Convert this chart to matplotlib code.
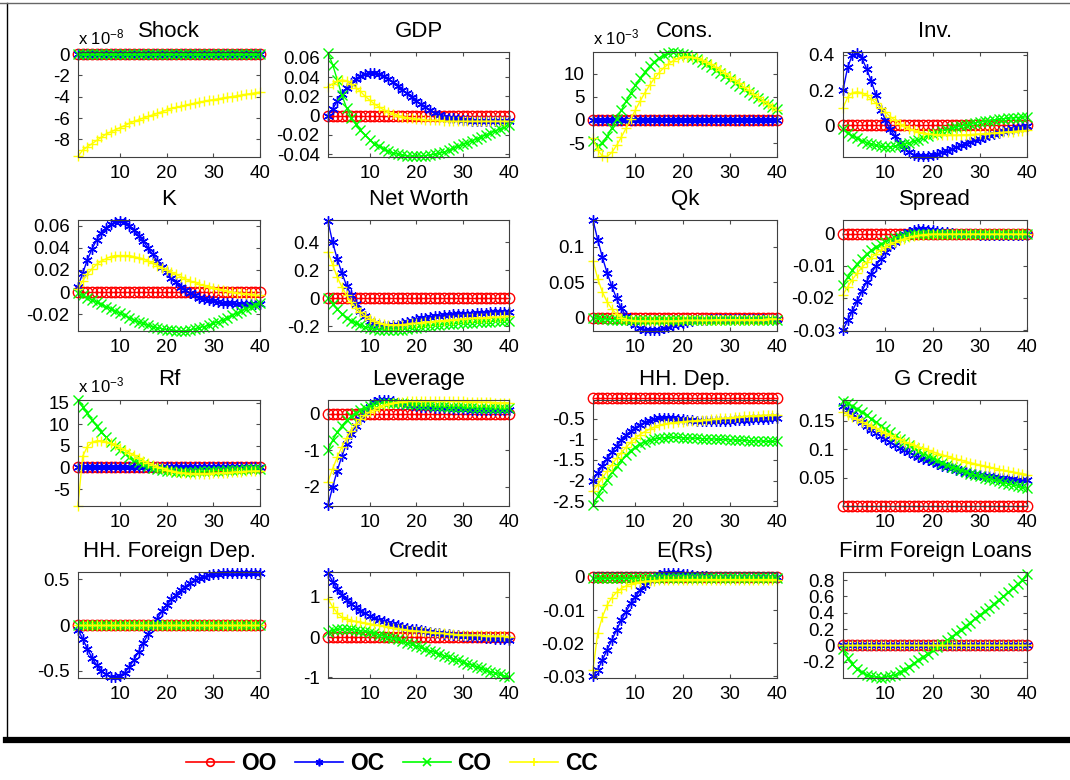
import numpy as np
import matplotlib
matplotlib.use("Agg")
import matplotlib.pyplot as plt
from matplotlib.lines import Line2D

plt.rcParams['font.family'] = ['Liberation Sans', 'DejaVu Sans']
plt.rcParams['mathtext.default'] = 'regular'

########## DATA ##########
periods = np.arange(1, 41)
series_names = ["OO", "OC", "CO", "CC"]
zero = [0.0] * 40

# Shock (x 1e-8)
shock_cc = [-9.6, -9.0, -8.7, -8.4, -8.1, -7.8, -7.5, -7.3, -7.1, -6.9,
            -6.7, -6.5, -6.3, -6.15, -6.0, -5.85, -5.7, -5.55, -5.4, -5.25,
            -5.1, -5.0, -4.9, -4.8, -4.7, -4.6, -4.5, -4.42, -4.34, -4.27,
            -4.2, -4.12, -4.05, -3.98, -3.91, -3.84, -3.77, -3.7, -3.63, -3.56]

# GDP
gdp_oc = [0.0, 0.007, 0.015, 0.022, 0.029, 0.034, 0.038, 0.041, 0.043, 0.044,
          0.044, 0.043, 0.041, 0.038, 0.035, 0.031, 0.027, 0.023, 0.019, 0.015,
          0.012, 0.009, 0.006, 0.003, 0.001, -0.001, -0.002, -0.003, -0.004, -0.005,
          -0.005, -0.0055, -0.006, -0.006, -0.006, -0.006, -0.006, -0.006, -0.006, -0.006]
gdp_co = [0.065, 0.053, 0.037, 0.021, 0.008, -0.002, -0.009, -0.015, -0.02, -0.025,
          -0.029, -0.032, -0.035, -0.037, -0.039, -0.04, -0.041, -0.042, -0.042, -0.042,
          -0.042, -0.0415, -0.041, -0.04, -0.039, -0.038, -0.036, -0.034, -0.032, -0.03,
          -0.028, -0.026, -0.024, -0.022, -0.02, -0.018, -0.016, -0.014, -0.012, -0.01]
gdp_cc = [0.03, 0.033, 0.036, 0.037, 0.036, 0.033, 0.029, 0.025, 0.02, 0.016,
          0.012, 0.009, 0.006, 0.004, 0.002, 0.0, -0.001, -0.002, -0.003, -0.004,
          -0.004, -0.005, -0.005, -0.005, -0.005, -0.006, -0.006, -0.006, -0.006, -0.006,
          -0.006, -0.006, -0.006, -0.006, -0.006, -0.006, -0.006, -0.006, -0.006, -0.006]

# Cons. (x 1e-3)
cons_co = [-4.6, -5.6, -5.0, -3.5, -1.7, 0.2, 2.1, 4.0, 5.8, 7.5,
           9.0, 10.4, 11.6, 12.6, 13.4, 14.0, 14.4, 14.6, 14.5, 14.3,
           14.0, 13.6, 13.1, 12.6, 12.0, 11.4, 10.8, 10.1, 9.5, 8.8,
           8.1, 7.4, 6.7, 6.0, 5.4, 4.7, 4.1, 3.5, 2.9, 2.4]
cons_cc = [-4.0, -6.5, -7.8, -7.9, -7.0, -5.5, -3.7, -1.8, 0.2, 2.2,
           4.1, 5.9, 7.5, 9.0, 10.2, 11.3, 12.1, 12.8, 13.3, 13.6,
           13.7, 13.6, 13.4, 13.0, 12.6, 12.0, 11.4, 10.8, 10.1, 9.4,
           8.7, 7.9, 7.1, 6.4, 5.6, 4.9, 4.2, 3.5, 2.8, 2.2]

# Inv.
inv_oc = [0.2, 0.33, 0.40, 0.41, 0.38, 0.32, 0.25, 0.17, 0.09, 0.03,
          -0.02, -0.06, -0.1, -0.13, -0.15, -0.165, -0.172, -0.175, -0.173, -0.168,
          -0.16, -0.152, -0.143, -0.133, -0.123, -0.113, -0.103, -0.093, -0.083, -0.074,
          -0.065, -0.056, -0.048, -0.04, -0.033, -0.026, -0.02, -0.014, -0.009, -0.005]
inv_co = [-0.02, -0.04, -0.058, -0.073, -0.086, -0.097, -0.106, -0.113, -0.118, -0.12,
          -0.12, -0.118, -0.113, -0.106, -0.098, -0.089, -0.08, -0.07, -0.06, -0.05,
          -0.041, -0.032, -0.024, -0.016, -0.009, -0.002, 0.004, 0.01, 0.015, 0.02,
          0.024, 0.028, 0.032, 0.035, 0.038, 0.041, 0.043, 0.045, 0.047, 0.049]
inv_cc = [0.1, 0.16, 0.185, 0.19, 0.185, 0.17, 0.15, 0.125, 0.1, 0.075,
          0.05, 0.03, 0.01, -0.005, -0.018, -0.028, -0.036, -0.042, -0.047, -0.05,
          -0.052, -0.053, -0.054, -0.054, -0.054, -0.053, -0.052, -0.051, -0.05, -0.048,
          -0.046, -0.044, -0.042, -0.04, -0.038, -0.036, -0.034, -0.032, -0.03, -0.028]

# K
k_oc = [0.005, 0.017, 0.029, 0.039, 0.047, 0.053, 0.058, 0.061, 0.063, 0.064,
        0.063, 0.06, 0.056, 0.051, 0.046, 0.04, 0.034, 0.028, 0.023, 0.018,
        0.013, 0.009, 0.005, 0.002, -0.001, -0.003, -0.005, -0.006, -0.007, -0.008,
        -0.009, -0.0095, -0.01, -0.01, -0.0105, -0.0105, -0.011, -0.011, -0.011, -0.011]
k_co = [-0.001, -0.003, -0.005, -0.007, -0.009, -0.011, -0.013, -0.015, -0.017, -0.019,
        -0.021, -0.023, -0.025, -0.027, -0.028, -0.03, -0.031, -0.032, -0.033, -0.034,
        -0.034, -0.035, -0.035, -0.035, -0.034, -0.033, -0.032, -0.031, -0.03, -0.028,
        -0.027, -0.025, -0.023, -0.021, -0.019, -0.017, -0.015, -0.013, -0.012, -0.01]
k_cc = [0.003, 0.01, 0.016, 0.021, 0.025, 0.028, 0.03, 0.032, 0.033, 0.033,
        0.033, 0.033, 0.032, 0.031, 0.03, 0.028, 0.026, 0.024, 0.022, 0.02,
        0.018, 0.016, 0.014, 0.012, 0.01, 0.009, 0.007, 0.006, 0.005, 0.004,
        0.003, 0.002, 0.001, 0.0, -0.001, -0.001, -0.002, -0.002, -0.003, -0.003]

# Net Worth
nw_oc = [0.55, 0.4, 0.28, 0.18, 0.09, 0.02, -0.04, -0.09, -0.13, -0.16,
         -0.18, -0.19, -0.2, -0.2, -0.195, -0.19, -0.18, -0.17, -0.16, -0.15,
         -0.145, -0.14, -0.135, -0.13, -0.125, -0.12, -0.12, -0.115, -0.115, -0.11,
         -0.11, -0.11, -0.105, -0.105, -0.105, -0.1, -0.1, -0.1, -0.1, -0.1]
nw_co = [0.0, -0.04, -0.08, -0.11, -0.14, -0.16, -0.18, -0.195, -0.205, -0.215,
         -0.22, -0.225, -0.228, -0.23, -0.23, -0.228, -0.225, -0.22, -0.215, -0.21,
         -0.205, -0.2, -0.197, -0.194, -0.19, -0.188, -0.185, -0.183, -0.181, -0.179,
         -0.177, -0.175, -0.173, -0.171, -0.169, -0.167, -0.165, -0.163, -0.161, -0.16]
nw_cc = [0.33, 0.24, 0.15, 0.08, 0.02, -0.03, -0.07, -0.1, -0.13, -0.15,
         -0.165, -0.175, -0.185, -0.19, -0.19, -0.19, -0.19, -0.185, -0.18, -0.18,
         -0.175, -0.17, -0.17, -0.165, -0.16, -0.16, -0.155, -0.155, -0.15, -0.15,
         -0.145, -0.145, -0.14, -0.14, -0.14, -0.135, -0.135, -0.135, -0.13, -0.13]

# Qk
qk_oc = [0.138, 0.11, 0.085, 0.063, 0.044, 0.027, 0.013, 0.002, -0.006, -0.011,
         -0.015, -0.017, -0.018, -0.018, -0.017, -0.015, -0.013, -0.011, -0.009, -0.007,
         -0.006, -0.005, -0.004, -0.003, -0.003, -0.002, -0.002, -0.002, -0.002, -0.002,
         -0.002, -0.002, -0.002, -0.002, -0.002, -0.002, -0.002, -0.002, -0.002, -0.002]
qk_co = [0.0, -0.001, -0.002, -0.002, -0.003, -0.003, -0.003, -0.003, -0.003, -0.003,
         -0.003, -0.003, -0.003, -0.003, -0.003, -0.003, -0.003, -0.003, -0.003, -0.003,
         -0.003, -0.003, -0.003, -0.003, -0.003, -0.003, -0.003, -0.003, -0.003, -0.003,
         -0.003, -0.003, -0.003, -0.003, -0.003, -0.003, -0.003, -0.003, -0.003, -0.003]
qk_cc = [0.08, 0.055, 0.036, 0.022, 0.012, 0.005, 0.0, -0.003, -0.004, -0.005,
         -0.005, -0.005, -0.005, -0.005, -0.005, -0.005, -0.005, -0.005, -0.005, -0.004,
         -0.004, -0.004, -0.004, -0.004, -0.004, -0.004, -0.003, -0.003, -0.003, -0.003,
         -0.003, -0.003, -0.003, -0.003, -0.003, -0.003, -0.003, -0.002, -0.002, -0.002]

# Spread
spread_oc = [-0.03, -0.027, -0.024, -0.021, -0.018, -0.015, -0.0125, -0.01, -0.0078, -0.0058,
             -0.004, -0.0025, -0.0012, -0.0002, 0.0005, 0.001, 0.0013, 0.0013, 0.0012, 0.001,
             0.0008, 0.0006, 0.0004, 0.0002, 0.0, -0.0001, -0.0002, -0.0003, -0.0003, -0.0004,
             -0.0004, -0.0004, -0.0004, -0.0005, -0.0005, -0.0005, -0.0005, -0.0005, -0.0005, -0.0005]
spread_co = [-0.016, -0.0135, -0.0113, -0.0094, -0.0078, -0.0064, -0.0052, -0.0042, -0.0033, -0.0026,
             -0.002, -0.0015, -0.0011, -0.0008, -0.0005, -0.0003, -0.0002, -0.0001, -0.0001, 0.0,
             0.0, 0.0, 0.0, 0.0, 0.0, 0.0, 0.0, 0.0, 0.0, 0.0,
             0.0, 0.0, 0.0, 0.0, 0.0, 0.0, 0.0, 0.0, 0.0, 0.0]
spread_cc = [-0.019, -0.0165, -0.0143, -0.0123, -0.0105, -0.009, -0.0076, -0.0063, -0.0052, -0.0042,
             -0.0034, -0.0027, -0.0021, -0.0016, -0.0012, -0.0009, -0.0006, -0.0004, -0.0003, -0.0002,
             -0.0002, -0.0002, -0.0002, -0.0002, -0.0002, -0.0002, -0.0002, -0.0002, -0.0002, -0.0002,
             -0.0002, -0.0002, -0.0002, -0.0002, -0.0002, -0.0002, -0.0002, -0.0002, -0.0002, -0.0002]

# Rf (x 1e-3)
rf_co = [15.5, 14.0, 12.5, 11.0, 9.6, 8.3, 7.0, 5.9, 4.9, 4.0,
         3.2, 2.5, 1.8, 1.2, 0.7, 0.3, -0.1, -0.4, -0.6, -0.8,
         -0.9, -1.0, -1.0, -1.0, -1.0, -1.0, -0.9, -0.9, -0.8, -0.8,
         -0.7, -0.7, -0.6, -0.6, -0.5, -0.5, -0.4, -0.4, -0.4, -0.3]
rf_cc = [-8.8, 2.6, 4.8, 5.8, 6.2, 6.2, 6.0, 5.6, 5.1, 4.6,
         4.0, 3.4, 2.8, 2.2, 1.6, 1.1, 0.6, 0.2, -0.2, -0.5,
         -0.8, -1.0, -1.2, -1.3, -1.4, -1.4, -1.4, -1.4, -1.4, -1.3,
         -1.3, -1.2, -1.2, -1.1, -1.0, -1.0, -0.9, -0.9, -0.8, -0.8]

# Leverage
lev_oc = [-2.5, -2.0, -1.55, -1.15, -0.82, -0.55, -0.32, -0.13, 0.05, 0.2,
          0.32, 0.38, 0.39, 0.37, 0.34, 0.31, 0.28, 0.26, 0.24, 0.22,
          0.2, 0.19, 0.18, 0.17, 0.16, 0.15, 0.15, 0.14, 0.14, 0.13,
          0.13, 0.12, 0.12, 0.12, 0.11, 0.11, 0.11, 0.1, 0.1, 0.1]
lev_co = [-1.0, -0.72, -0.5, -0.32, -0.18, -0.07, 0.02, 0.1, 0.16, 0.21,
          0.25, 0.28, 0.3, 0.31, 0.31, 0.3, 0.29, 0.28, 0.27, 0.26,
          0.25, 0.24, 0.23, 0.22, 0.21, 0.21, 0.2, 0.2, 0.19, 0.19,
          0.18, 0.18, 0.17, 0.17, 0.17, 0.16, 0.16, 0.16, 0.15, 0.15]
lev_cc = [-1.85, -1.5, -1.18, -0.9, -0.66, -0.46, -0.29, -0.15, -0.04, 0.05,
          0.12, 0.18, 0.23, 0.27, 0.3, 0.32, 0.33, 0.34, 0.35, 0.35,
          0.35, 0.35, 0.35, 0.35, 0.35, 0.35, 0.35, 0.34, 0.34, 0.34,
          0.33, 0.33, 0.33, 0.32, 0.32, 0.32, 0.31, 0.31, 0.31, 0.3]

# HH. Dep.
hhd_oc = [-2.0, -1.82, -1.64, -1.47, -1.31, -1.16, -1.02, -0.9, -0.8, -0.71,
          -0.64, -0.58, -0.54, -0.51, -0.49, -0.48, -0.48, -0.49, -0.5, -0.51,
          -0.52, -0.53, -0.54, -0.54, -0.55, -0.55, -0.55, -0.54, -0.54, -0.54,
          -0.53, -0.53, -0.52, -0.52, -0.51, -0.51, -0.5, -0.5, -0.49, -0.49]
hhd_co = [-2.6, -2.38, -2.17, -1.98, -1.8, -1.64, -1.5, -1.38, -1.27, -1.18,
          -1.11, -1.06, -1.02, -0.99, -0.97, -0.96, -0.95, -0.95, -0.95, -0.96,
          -0.96, -0.97, -0.97, -0.98, -0.98, -0.99, -0.99, -1.0, -1.0, -1.01,
          -1.01, -1.02, -1.02, -1.03, -1.03, -1.04, -1.04, -1.05, -1.05, -1.05]
hhd_cc = [-2.25, -2.1, -1.93, -1.77, -1.61, -1.46, -1.32, -1.19, -1.07, -0.97,
          -0.88, -0.81, -0.75, -0.7, -0.66, -0.63, -0.61, -0.59, -0.58, -0.57,
          -0.56, -0.55, -0.54, -0.53, -0.52, -0.51, -0.5, -0.49, -0.48, -0.47,
          -0.46, -0.45, -0.44, -0.43, -0.42, -0.42, -0.41, -0.41, -0.4, -0.4]

# G Credit
gcr_oc = [0.175, 0.168, 0.161, 0.154, 0.147, 0.141, 0.134, 0.128, 0.122, 0.117,
          0.112, 0.107, 0.102, 0.098, 0.094, 0.09, 0.086, 0.083, 0.08, 0.077,
          0.074, 0.071, 0.069, 0.066, 0.064, 0.062, 0.06, 0.058, 0.056, 0.055,
          0.053, 0.052, 0.051, 0.05, 0.049, 0.048, 0.047, 0.046, 0.045, 0.045]
gcr_co = [0.185, 0.18, 0.175, 0.17, 0.165, 0.159, 0.153, 0.147, 0.141, 0.135,
          0.129, 0.123, 0.118, 0.112, 0.107, 0.102, 0.097, 0.092, 0.088, 0.084,
          0.08, 0.076, 0.072, 0.069, 0.066, 0.063, 0.06, 0.057, 0.054, 0.052,
          0.049, 0.047, 0.045, 0.043, 0.041, 0.039, 0.037, 0.035, 0.033, 0.031]
gcr_cc = [0.165, 0.16, 0.156, 0.152, 0.148, 0.144, 0.14, 0.136, 0.132, 0.128,
          0.124, 0.12, 0.117, 0.113, 0.11, 0.107, 0.104, 0.101, 0.098, 0.095,
          0.092, 0.09, 0.087, 0.085, 0.082, 0.08, 0.078, 0.076, 0.074, 0.072,
          0.07, 0.068, 0.066, 0.064, 0.063, 0.061, 0.06, 0.058, 0.057, 0.055]

# HH. Foreign Dep.
hfd_oc = [-0.05, -0.15, -0.26, -0.36, -0.44, -0.5, -0.54, -0.565, -0.57, -0.555,
          -0.52, -0.46, -0.38, -0.29, -0.2, -0.1, -0.01, 0.07, 0.15, 0.22,
          0.28, 0.33, 0.38, 0.42, 0.46, 0.49, 0.51, 0.53, 0.545, 0.555,
          0.56, 0.565, 0.57, 0.57, 0.57, 0.57, 0.57, 0.57, 0.57, 0.57]

# Credit
cr_oc = [1.6, 1.38, 1.2, 1.05, 0.93, 0.83, 0.74, 0.66, 0.59, 0.53,
         0.48, 0.43, 0.39, 0.35, 0.32, 0.29, 0.26, 0.23, 0.21, 0.19,
         0.17, 0.15, 0.13, 0.11, 0.1, 0.08, 0.07, 0.06, 0.04, 0.03,
         0.02, 0.01, 0.0, -0.01, -0.02, -0.03, -0.04, -0.05, -0.06, -0.07]
cr_co = [0.12, 0.17, 0.19, 0.2, 0.2, 0.19, 0.18, 0.16, 0.14, 0.12,
         0.09, 0.06, 0.03, 0.0, -0.03, -0.06, -0.1, -0.14, -0.18, -0.22,
         -0.26, -0.3, -0.34, -0.38, -0.42, -0.46, -0.5, -0.54, -0.58, -0.62,
         -0.66, -0.7, -0.74, -0.78, -0.82, -0.86, -0.9, -0.93, -0.97, -1.0]
cr_cc = [0.95, 0.75, 0.6, 0.5, 0.44, 0.41, 0.39, 0.37, 0.35, 0.33,
         0.31, 0.29, 0.27, 0.25, 0.23, 0.21, 0.19, 0.17, 0.16, 0.15,
         0.14, 0.13, 0.12, 0.11, 0.1, 0.09, 0.08, 0.07, 0.06, 0.06,
         0.05, 0.05, 0.04, 0.04, 0.03, 0.03, 0.02, 0.02, 0.02, 0.01]

# E(Rs)
ers_oc = [-0.03, -0.028, -0.025, -0.022, -0.019, -0.016, -0.013, -0.0105, -0.008, -0.006,
          -0.004, -0.0025, -0.001, 0.0, 0.0007, 0.0011, 0.0013, 0.0013, 0.0012, 0.001,
          0.0008, 0.0006, 0.0004, 0.0003, 0.0002, 0.0001, 0.0, 0.0, 0.0, 0.0,
          0.0, 0.0, 0.0, 0.0, 0.0, 0.0, 0.0, 0.0, 0.0, 0.0]
ers_co = [-0.0004] * 40
ers_cc = [-0.028, -0.017, -0.012, -0.0085, -0.0062, -0.0046, -0.0035, -0.0027, -0.0021, -0.0017,
          -0.0015, -0.0013, -0.0012, -0.0011, -0.001, -0.001, -0.0009, -0.0009, -0.0008, -0.0008,
          -0.0008, -0.0008, -0.0008, -0.0008, -0.0008, -0.0008, -0.0008, -0.0008, -0.0008, -0.0008,
          -0.0008, -0.0008, -0.0008, -0.0008, -0.0008, -0.0008, -0.0008, -0.0008, -0.0008, -0.0008]

# Firm Foreign Loans
ffl_co = [-0.05, -0.15, -0.23, -0.29, -0.33, -0.36, -0.38, -0.39, -0.395, -0.39,
          -0.38, -0.36, -0.33, -0.3, -0.26, -0.22, -0.18, -0.14, -0.1, -0.06,
          -0.02, 0.02, 0.06, 0.1, 0.15, 0.19, 0.24, 0.28, 0.33, 0.37,
          0.42, 0.46, 0.51, 0.56, 0.6, 0.65, 0.7, 0.75, 0.8, 0.88]

# title, OO, OC, CO, CC, ylim, yticks, exponent label
panels = [
    ("Shock", zero, zero, zero, shock_cc, (-9.65, 0.2), [-8, -6, -4, -2, 0], "-8"),
    ("GDP", zero, gdp_oc, gdp_co, gdp_cc, (-0.043, 0.066), [-0.04, -0.02, 0, 0.02, 0.04, 0.06], None),
    ("Cons.", zero, zero, cons_co, cons_cc, (-8.0, 14.7), [-5, 0, 5, 10], "-3"),
    ("Inv.", zero, inv_oc, inv_co, inv_cc, (-0.178, 0.415), [0, 0.2, 0.4], None),
    ("K", zero, k_oc, k_co, k_cc, (-0.035, 0.065), [-0.02, 0, 0.02, 0.04, 0.06], None),
    ("Net Worth", zero, nw_oc, nw_co, nw_cc, (-0.235, 0.56), [-0.2, 0, 0.2, 0.4], None),
    ("Qk", zero, qk_oc, qk_co, qk_cc, (-0.019, 0.138), [0, 0.05, 0.1], None),
    ("Spread", zero, spread_oc, spread_co, spread_cc, (-0.0303, 0.0042), [-0.03, -0.02, -0.01, 0], None),
    ("Rf", zero, zero, rf_co, rf_cc, (-8.9, 15.6), [-5, 0, 5, 10, 15], "-3"),
    ("Leverage", zero, lev_oc, lev_co, lev_cc, (-2.52, 0.38), [-2, -1, 0], None),
    ("HH. Dep.", zero, hhd_oc, hhd_co, hhd_cc, (-2.62, -0.04), [-2.5, -2, -1.5, -1, -0.5], None),
    ("G Credit", zero, gcr_oc, gcr_co, gcr_cc, (0.0, 0.186), [0.05, 0.1, 0.15], None),
    ("HH. Foreign Dep.", zero, hfd_oc, zero, zero, (-0.58, 0.58), [-0.5, 0, 0.5], None),
    ("Credit", zero, cr_oc, cr_co, cr_cc, (-1.02, 1.62), [-1, 0, 1], None),
    ("E(Rs)", zero, ers_oc, ers_co, ers_cc, (-0.0305, 0.0015), [-0.03, -0.02, -0.01, 0], None),
    ("Firm Foreign Loans", zero, zero, ffl_co, zero, (-0.4, 0.9), [-0.2, 0, 0.2, 0.4, 0.6, 0.8], None),
]

# MATLAB-like line specs: 'r-o', 'b-*', 'g-x', 'y-+'
styles = [
    dict(color="red", marker="o", mfc="none"),
    dict(color="blue", marker=(6, 2, 0)),
    dict(color="#00ff00", marker="x"),
    dict(color="yellow", marker="+"),
]

W, H = 1070, 780
col_left = [78, 328, 593, 843]
col_w = [182, 181, 184, 184]
row_top = [52, 220, 400, 572]
row_bot = [157, 331, 506, 678]

fig = plt.figure(figsize=(W / 100, H / 100), dpi=100)

for i, (title, oo, oc, co, cc, ylim, yt, expo) in enumerate(panels):
    r, c = divmod(i, 4)
    ax = fig.add_axes([col_left[c] / W, 1 - row_bot[r] / H,
                       col_w[c] / W, (row_bot[r] - row_top[r]) / H])
    for vals, st in zip([oo, oc, co, cc], styles):
        ax.plot(periods, vals, lw=1, ms=7.5, mew=1, clip_on=False, **st)
    ax.set_xlim(1, 40)
    ax.set_ylim(*ylim)
    ax.set_xticks([10, 20, 30, 40])
    ax.set_yticks(yt)
    ax.set_yticklabels([f"{v:g}" for v in yt])
    ax.tick_params(direction="in", top=True, right=True, length=3,
                   labelsize=13.5, pad=6, color="0.3")
    for sp in ax.spines.values():
        sp.set_color("0.25")
    ax.set_title(title, fontsize=16, pad=11)
    if expo:
        ax.text(0.0, 1.04, "x 10$^{" + expo + "}$", transform=ax.transAxes,
                ha="left", va="bottom", fontsize=12)

# frame lines of the page
fig.add_artist(Line2D([7 / W, 7 / W], [1 - 3 / H, 1 - 740 / H], color="black", lw=1))
fig.add_artist(Line2D([0, 1], [1 - 3 / H, 1 - 3 / H], color="0.4", lw=1))
fig.add_artist(Line2D([6 / W, 1], [1 - 740 / H, 1 - 740 / H], color="black", lw=4.5))

handles = [Line2D([], [], lw=1.2, ms=5.5, mew=1.2, **st) for st in styles]
fig.legend(handles, series_names, loc="center", bbox_to_anchor=(392 / W, 1 - 764 / H),
           ncol=4, frameon=False, prop={"weight": "bold", "size": 16.5},
           handlelength=2.1, handletextpad=0.3, columnspacing=0.8, numpoints=1)

plt.savefig("out.png", dpi=100)
